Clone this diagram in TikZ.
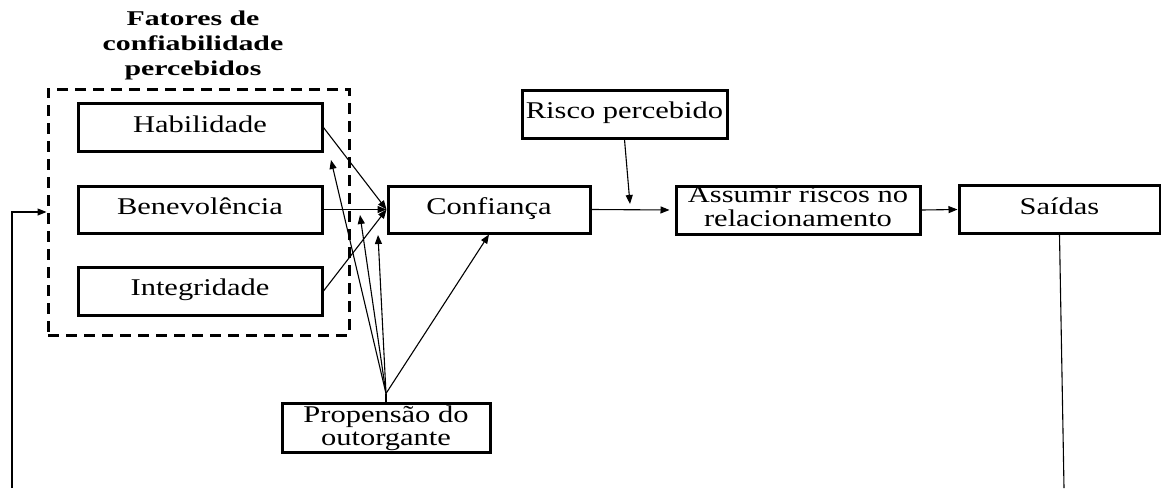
\documentclass[tikz,border=0pt]{standalone}
\usepackage{fontspec}
\usepackage{graphicx}
\setmainfont{Liberation Serif}
\usetikzlibrary{arrows.meta}

% wide, centred block of text (one or more lines)
\newcommand{\wtext}[1]{\scalebox{1.27}[1]{\begin{tabular}{@{}c@{}}#1\end{tabular}}}

\begin{document}
\begin{tikzpicture}[x=1pt,y=-1pt,
  box/.style={draw, line width=3pt, inner sep=0pt,
              font=\fontsize{24}{23}\selectfont},
  frame/.style={draw, line width=3pt, dash pattern=on 11pt off 7pt, inner sep=0pt},
  link/.style={line width=1.1pt, -{Triangle[length=9pt,width=7pt]}},
  plain/.style={line width=1.1pt}]
\useasboundingbox (0,0) rectangle (1161,488);

% heading of the group of factors
\node[font=\bfseries\fontsize{21}{25}\selectfont] (title) at (193,45)
  {\scalebox{1.42}[1]{\begin{tabular}{@{}c@{}}Fatores de\\confiabilidade\\percebidos\end{tabular}}};

% dashed group frame and the three factors
\node[frame, minimum width=301pt, minimum height=246pt] (grp) at (198.5,212) {};
\node[box, minimum width=244pt, minimum height=48pt] (hab) at (200,127.5) {\wtext{Habilidade}};
\node[box, minimum width=244pt, minimum height=47pt] (ben) at (200,209.5) {\wtext{Benevolência}};
\node[box, minimum width=244pt, minimum height=48pt] (int) at (200,291) {\wtext{Integridade}};

% main chain
\node[box, minimum width=202pt, minimum height=47pt] (conf) at (489,209.5) {\wtext{Confiança}};
\node[box, minimum width=205pt, minimum height=48pt] (risco) at (624.5,114) {\wtext{Risco percebido}};
\node[box, minimum width=244pt, minimum height=48pt] (ass) at (798,210) {\wtext{Assumir riscos no\\relacionamento}};
\node[box, minimum width=201pt, minimum height=48pt] (sai) at (1059.5,209.5) {\wtext{Saídas}};
\node[box, minimum width=208pt, minimum height=49pt, text height=30pt, text depth=15pt] (prop) at (386,427.5)
  {\wtext{Propensão do\\outorgante}};

% free ends of connectors
\coordinate (pfan) at ([yshift=8pt]prop.north);
\coordinate (p1) at (331,160);
\coordinate (p2) at (360,215);
\coordinate (p3) at (378,235);
\coordinate (rtip) at (630,204);
\coordinate (outEnd) at (1064,488);
\coordinate (fbStart) at (12,488);

% factors into trust
\draw[link] (hab.east) -- (conf.west);
\draw[link] (ben.east) -- (conf.west);
\draw[link] (int.east) -- (conf.west);

% trustor's propensity
\draw[plain] (prop.north) -- (pfan);
\draw[link] (pfan) -- (p1);
\draw[link] (pfan) -- (p2);
\draw[link] (pfan) -- (p3);
\draw[link] (pfan) -- (conf.south);

% chain to outcomes
\draw[link, shorten >=5pt] (conf.east) -- (ass.west);
\draw[link] (risco.south) -- (rtip);
\draw[link] (ass.east) -- (sai.west);

% feedback
\draw[plain] (sai.south) -- (outEnd);
\draw[link] (fbStart) |- (grp.west);
\end{tikzpicture}
\end{document}
